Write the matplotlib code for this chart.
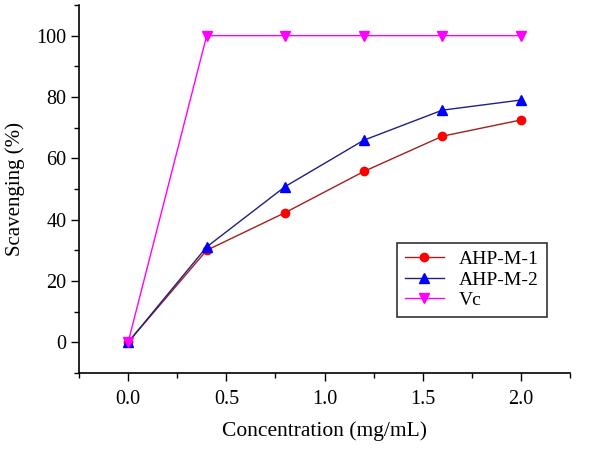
import matplotlib.pyplot as plt
from matplotlib.ticker import MultipleLocator

conc = [0.0, 0.4, 0.8, 1.2, 1.6, 2.0]
ahp_m1 = [0, 30.0, 42.3, 55.7, 67.2, 72.5]
ahp_m2 = [0, 31.1, 50.8, 65.9, 75.7, 79.0]
vc = [0, 100, 100, 100, 100, 100]

plt.rcParams['font.family'] = ['Liberation Serif', 'DejaVu Serif']

fig = plt.figure(figsize=(6, 4.51), dpi=100)
ax = fig.add_axes([0.1317, 0.173, 0.8183, 0.816])

ax.plot(conc, ahp_m1, color='#a02020', lw=1, marker='o', ms=6,
        mfc='red', mec='red', label='AHP-M-1')
ax.plot(conc, ahp_m2, color='#202080', lw=1, marker='^', ms=7,
        mfc='blue', mec='blue', label='AHP-M-2')
ax.plot(conc, vc, color='magenta', lw=1, marker='v', ms=7,
        mfc='magenta', mec='magenta', label='Vc')

ax.set_xlim(-0.25, 2.25)
ax.set_ylim(-10, 110)
ax.xaxis.set_major_locator(MultipleLocator(0.5))
ax.xaxis.set_minor_locator(MultipleLocator(0.25))
ax.yaxis.set_major_locator(MultipleLocator(20))
ax.yaxis.set_minor_locator(MultipleLocator(10))
ax.xaxis.set_major_formatter(plt.FormatStrFormatter('%.1f'))

for s in ['top', 'right']:
    ax.spines[s].set_visible(False)
for s in ['left', 'bottom']:
    ax.spines[s].set_linewidth(1.2)
ax.tick_params(which='major', direction='out', length=6, width=1, labelsize=14.5, pad=3)
ax.tick_params(axis='x', which='major', pad=6)
ax.tick_params(which='minor', direction='out', length=3.5, width=1)

ax.set_xlabel('Concentration (mg/mL)', fontsize=15.5, labelpad=9)
ax.set_ylabel('Scavenging (%)', fontsize=15, labelpad=8)

leg = ax.legend(loc='lower right', bbox_to_anchor=(0.953, 0.152), fontsize=14,
                frameon=True, fancybox=False, edgecolor='black', borderaxespad=0,
                handlelength=2.0, borderpad=0.4, labelspacing=0.15)
leg.get_frame().set_linewidth(1.2)

fig.savefig('out.png', dpi=100)
